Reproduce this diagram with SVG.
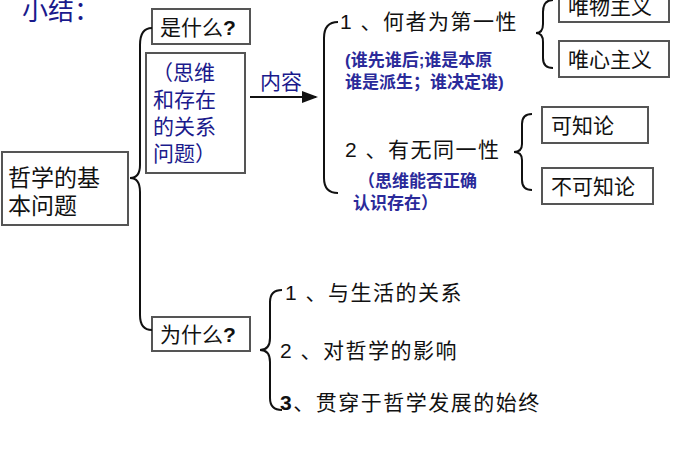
<svg xmlns="http://www.w3.org/2000/svg" width="700" height="470" viewBox="0 0 700 470">
<defs>
<style>
text{font-family:"Liberation Sans","Noto Sans CJK SC",sans-serif;fill:#111}
.box{fill:#fff;stroke:#555;stroke-width:2}
.b{fill:#1a1a8c}
.m{font-size:21px}
.t{font-size:21px;letter-spacing:1.5px}
.s{font-size:17px;font-weight:bold;fill:#2a2a9a}
.br{fill:none;stroke:#111;stroke-width:2}
</style>
<marker id="ar" markerWidth="8" markerHeight="8" refX="7" refY="4" orient="auto"><path d="M0,1 L8,4 L0,7z" fill="#111"/></marker>
</defs>
<rect width="700" height="470" fill="#fff"/>
<text x="22" y="20" font-size="26" class="b">小结：</text>
<g id="root"><rect class="box" x="2" y="152" width="126" height="73"/><text x="8" y="186" font-size="23">哲学的基</text><text x="8" y="214" font-size="23">本问题</text></g>
<g id="what"><rect class="box" x="152" y="9" width="98" height="35"/><text x="160" y="35" class="m">是什么<tspan font-weight="bold">?</tspan></text></g>
<g id="rel"><rect class="box" x="146" y="53" width="99" height="120"/>
<text x="152" y="80" font-size="21" class="b">（思维</text><text x="153" y="107" font-size="21" class="b">和存在</text><text x="153" y="134" font-size="21" class="b">的关系</text><text x="153" y="161" font-size="21" class="b">问题）</text></g>
<g id="why"><rect class="box" x="152" y="317" width="98" height="34"/><text x="160" y="342" class="m">为什么<tspan font-weight="bold">?</tspan></text></g>
<g id="c1"><text x="340" y="29" class="t">1 、何者为第一性</text><text x="345" y="66" class="s">(谁先谁后;谁是本原</text><text x="345" y="88" class="s">谁是派生；谁决定谁)</text></g>
<g id="c2"><text x="345" y="157" class="t">2 、有无同一性</text><text x="358" y="187" class="s">（思维能否正确</text><text x="353" y="209" class="s">认识存在）</text></g>
<g id="wuwu"><rect class="box" x="559" y="-6" width="110" height="28"/><text x="568" y="14" class="m">唯物主义</text></g>
<g id="weixin"><rect class="box" x="559" y="41" width="110" height="36"/><text x="568" y="67" class="m">唯心主义</text></g>
<g id="kezhi"><rect class="box" x="542" y="107" width="106" height="36"/><text x="551" y="133" class="m">可知论</text></g>
<g id="bukezhi"><rect class="box" x="542" y="168" width="111" height="36"/><text x="551" y="194" class="m">不可知论</text></g>
<g id="w1"><text x="285" y="300" class="t">1 、与生活的关系</text></g>
<g id="w2"><text x="280" y="358" class="t">2 、对哲学的影响</text></g>
<g id="w3"><text x="280" y="410" class="t"><tspan font-weight="bold">3</tspan>、贯穿于哲学发展的始终</text></g>
<g id="connectors">
<path class="br" d="M152,28 Q140,28 140,45 L140,165 Q140,178 130,178 Q140,178 140,192 L140,315 Q140,330 152,330"/>
<text x="260" y="89" font-size="21" class="b">内容</text>
<line x1="250" y1="97" x2="316" y2="97" stroke="#111" stroke-width="2" marker-end="url(#ar)"/>
<path class="br" d="M338,22 Q324,22 324,38 L324,178 Q324,193 338,193"/>
<path class="br" d="M553,0 Q543,0 543,12 L543,24 Q543,33 536,33 Q543,33 543,42 L543,58 Q543,68 553,68"/>
<path class="br" d="M532,114 Q522,114 522,124 L522,144 Q522,152 514,152 Q522,152 522,160 L522,180 Q522,190 532,190"/>
<path class="br" d="M282,290 Q270,290 270,302 L270,338 Q270,350 260,350 Q270,350 270,362 L270,398 Q270,410 282,410"/>
</g>
</svg>
